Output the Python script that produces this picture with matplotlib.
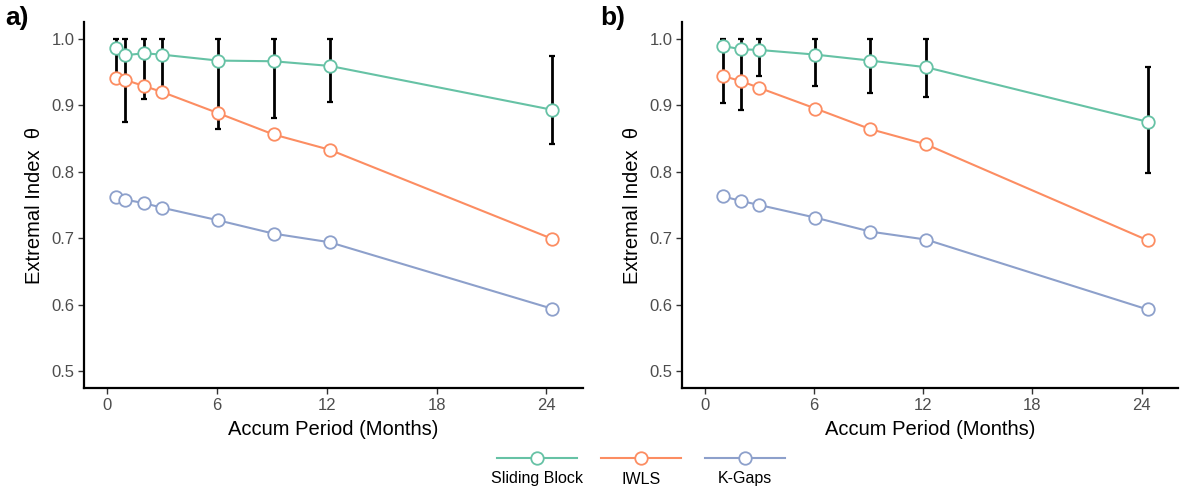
import matplotlib
matplotlib.use("Agg")
import matplotlib.pyplot as plt
from matplotlib.lines import Line2D

plt.rcParams['font.family'] = ['Liberation Sans', 'DejaVu Sans']

# ---- data ----
series_names = ["Sliding Block", "IWLS", "K-Gaps"]
colors = ["#66C2A5", "#FC8D62", "#8DA0CB"]

x_a = [0.5, 1, 2, 3, 6.08, 9.1, 12.17, 24.33]
sliding_a = [0.986, 0.975, 0.978, 0.976, 0.967, 0.966, 0.959, 0.893]
sliding_a_lo = [0.940, 0.875, 0.910, 0.925, 0.864, 0.880, 0.905, 0.842]
sliding_a_hi = [1.0, 1.0, 1.0, 1.0, 1.0, 1.0, 1.0, 0.974]
iwls_a = [0.941, 0.938, 0.929, 0.920, 0.888, 0.856, 0.833, 0.699]
kgaps_a = [0.762, 0.758, 0.753, 0.746, 0.727, 0.707, 0.694, 0.594]

x_b = [1, 2, 3, 6.08, 9.1, 12.17, 24.33]
sliding_b = [0.989, 0.984, 0.983, 0.976, 0.967, 0.957, 0.875]
sliding_b_lo = [0.903, 0.893, 0.944, 0.929, 0.918, 0.912, 0.798]
sliding_b_hi = [1.0, 1.0, 1.0, 1.0, 1.0, 1.0, 0.958]
iwls_b = [0.944, 0.936, 0.926, 0.895, 0.864, 0.841, 0.697]
kgaps_b = [0.763, 0.756, 0.750, 0.731, 0.710, 0.698, 0.593]

x_ticks = [0, 6, 12, 18, 24]
y_ticks = [0.5, 0.6, 0.7, 0.8, 0.9, 1.0]
panel_labels = ["a)", "b)"]
xlabel = "Accum Period (Months)"
ylabel = "Extremal Index  \u03b8"

W, H = 1183, 493
fig = plt.figure(figsize=(W / 100, H / 100), dpi=100)

def fx(px):
    return px / W

def fy(py):
    return 1 - py / H

ax_a = fig.add_axes([fx(84), fy(388), fx(583 - 84), (388 - 22) / H])
ax_b = fig.add_axes([fx(682), fy(388), fx(1178 - 682), (388 - 22) / H])

panels = [
    (ax_a, x_a, sliding_a, sliding_a_lo, sliding_a_hi, iwls_a, kgaps_a),
    (ax_b, x_b, sliding_b, sliding_b_lo, sliding_b_hi, iwls_b, kgaps_b),
]

ms = 9
lw = 1.5
for i, (ax, xs, sl, lo, hi, iw, kg) in enumerate(panels):
    yerr = [[s - l for s, l in zip(sl, lo)], [h - s for s, h in zip(sl, hi)]]
    ax.errorbar(xs, sl, yerr=yerr, fmt='none', ecolor='black', elinewidth=2.0,
                capsize=2.5, capthick=1.6, zorder=2)
    for vals, c in zip([sl, iw, kg], colors):
        ax.plot(xs, vals, color=c, lw=lw, zorder=3)
        ax.plot(xs, vals, linestyle='none', marker='o', ms=ms, mfc='white',
                mec=c, mew=1.3, zorder=4)
    ax.set_xlim(-1.25, 26.0)
    ax.set_ylim(0.475, 1.025)
    ax.set_xticks(x_ticks)
    ax.set_yticks(y_ticks)
    ax.set_yticklabels([f"{v:.1f}" for v in y_ticks])
    for s in ['top', 'right']:
        ax.spines[s].set_visible(False)
    for s in ['left', 'bottom']:
        ax.spines[s].set_linewidth(1.6)
        ax.spines[s].set_color('black')
    ax.tick_params(axis='both', length=4, width=1.0, color='#333333',
                   labelsize=12, labelcolor='#4D4D4D', pad=3)
    ax.set_xlabel(xlabel, fontsize=14.5, color='black', labelpad=5)
    ax.set_ylabel(ylabel, fontsize=14.5, color='black', labelpad=5)

fig.text(fx(5), fy(18), panel_labels[0], fontsize=19, fontweight='bold',
         ha='left', va='center')
fig.text(fx(600), fy(18), panel_labels[1], fontsize=19, fontweight='bold',
         ha='left', va='center')

# ---- legend (keys above labels, centred at the bottom) ----
leg_ax = fig.add_axes([0, 0, 1, 0.12])
leg_ax.set_xlim(0, W)
leg_ax.set_ylim(H, H - 0.12 * H)
leg_ax.axis('off')
key_centres = [537, 641, 745]
for name, c, cx in zip(series_names, colors, key_centres):
    leg_ax.add_line(Line2D([cx - 40, cx + 40], [458, 458], color=c, lw=lw))
    leg_ax.add_line(Line2D([cx], [458], marker='o', ms=9, mfc='white',
                           mec=c, mew=1.3, linestyle='none'))
    leg_ax.text(cx, 479, name, ha='center', va='center', fontsize=11.5,
                color='black')

fig.savefig("out.png", dpi=100)
